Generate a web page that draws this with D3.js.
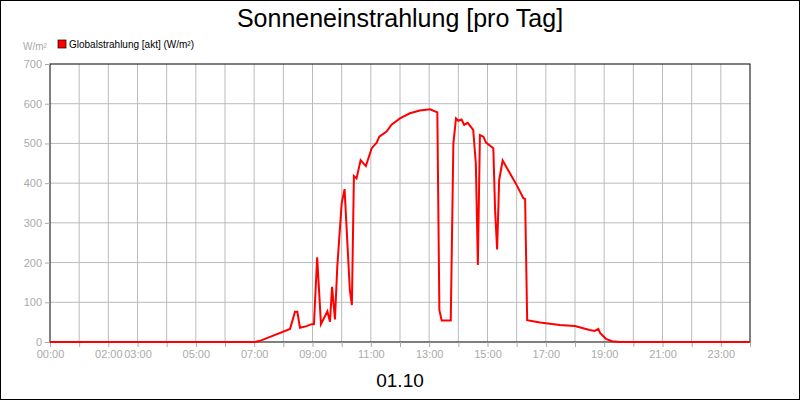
<!DOCTYPE html>
<html><head><meta charset="utf-8">
<script src="https://cdn.jsdelivr.net/npm/d3@7"></script>
<style>body{margin:0;background:#fff}</style>
</head><body><div id="chart"></div>
<script>
// time in hours, radiation W/m²
const hours = [0, 7.03, 7.2, 8.23, 8.4, 8.48, 8.57, 8.8, 8.97, 9.05, 9.16, 9.29, 9.51, 9.6, 9.67, 9.77, 9.85, 10.0, 10.1, 10.28, 10.35, 10.42, 10.51, 10.65, 10.83, 11.03, 11.2, 11.29, 11.54, 11.71, 12.0, 12.34, 12.68, 13.03, 13.28, 13.35, 13.43, 13.74, 13.83, 13.92, 14.0, 14.11, 14.2, 14.32, 14.51, 14.6, 14.67, 14.74, 14.86, 14.95, 15.2, 15.26, 15.33, 15.4, 15.52, 16.0, 16.23, 16.29, 16.36, 16.8, 17.48, 18.0, 18.5, 18.68, 18.8, 18.86, 19.06, 19.27, 19.54, 24];
const values = [0, 0, 3, 33, 76, 76, 36, 40, 45, 45, 213, 45, 77, 51, 139, 57, 190, 349, 385, 131, 93, 418, 412, 458, 443, 488, 502, 517, 530, 547, 563, 576, 583, 586, 578, 80, 54, 54, 500, 563, 557, 560, 547, 552, 534, 450, 194, 521, 517, 502, 488, 332, 233, 408, 457, 395, 362, 360, 55, 49, 43, 40, 30, 28, 33, 23, 8, 2, 0, 0];
const tickHours = [0, 2, 3, 5, 7, 9, 11, 13, 15, 17, 19, 21, 23];
const yTicks = [0, 100, 200, 300, 400, 500, 600, 700];

const W = 800, H = 400;
const svg = d3.select("#chart").append("svg").attr("width", W).attr("height", H)
  .style("font-family", "Liberation Sans, Arial, sans-serif");
svg.append("rect").attr("x", 0.5).attr("y", 0.5).attr("width", W - 1).attr("height", H - 1)
  .attr("fill", "#fff").attr("stroke", "#000");

const x = d3.scaleLinear().domain([0, 24]).range([50, 750]);
const y = d3.scaleLinear().domain([0, 700]).range([342, 64]);

// grid
svg.append("g").selectAll("line").data(d3.range(1, 24)).join("line")
  .attr("x1", d => x(d)).attr("x2", d => x(d)).attr("y1", 64).attr("y2", 342)
  .attr("stroke", "#bbb");
svg.append("g").selectAll("line").data(yTicks.slice(1, -1)).join("line")
  .attr("x1", 50).attr("x2", 750).attr("y1", d => y(d)).attr("y2", d => y(d))
  .attr("stroke", "#bbb");

// frame
svg.append("rect").attr("x", 50).attr("y", 64).attr("width", 700).attr("height", 278)
  .attr("fill", "none").attr("stroke", "#000");

// axes
const gx = svg.append("g").attr("transform", "translate(0,342)")
  .call(d3.axisBottom(x).tickValues(d3.range(0, 25)).tickSize(5)
    .tickFormat(d => tickHours.includes(d) ? String(d).padStart(2, "0") + ":00" : ""));
const gy = svg.append("g").attr("transform", "translate(50,0)")
  .call(d3.axisLeft(y).tickValues(yTicks).tickSize(5));
[gx, gy].forEach(g => {
  g.select(".domain").remove();
  g.selectAll("line").attr("stroke", "#aaa");
  g.selectAll("text").attr("fill", "#aaa").style("font-size", "11px").style("font-family", "Liberation Sans, Arial, sans-serif");
});

// line
svg.append("path")
  .datum(hours.map((h, i) => [h, values[i]]))
  .attr("fill", "none").attr("stroke", "#f00").attr("stroke-width", 2)
  .attr("d", d3.line().x(d => x(d[0])).y(d => y(d[1])));

// texts
svg.append("text").attr("x", 400).attr("y", 27).attr("text-anchor", "middle")
  .style("font-size", "25px").text("Sonneneinstrahlung [pro Tag]");
svg.append("text").attr("x", 400).attr("y", 387).attr("text-anchor", "middle")
  .style("font-size", "19px").text("01.10");
svg.append("text").attr("x", 23).attr("y", 50).attr("fill", "#aaa")
  .style("font-size", "10px").text("W/m²");
svg.append("rect").attr("x", 58).attr("y", 40).attr("width", 8).attr("height", 8)
  .attr("fill", "#f00").attr("stroke", "#000").attr("stroke-width", 0.7);
svg.append("text").attr("x", 69).attr("y", 48).style("font-size", "10px")
  .text("Globalstrahlung [akt] (W/m²)");
</script></body></html>
